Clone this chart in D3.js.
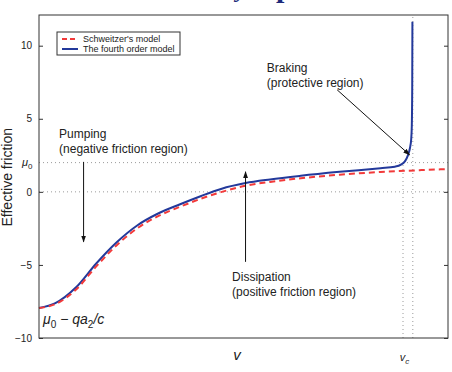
<!DOCTYPE html>
<html>
<head>
<meta charset="utf-8">
<script src="https://cdn.jsdelivr.net/npm/d3@7"></script>
<style>
  body { margin: 0; background: #fff; }
  svg { display: block; font-family: 'Liberation Sans', Arial, sans-serif; }
</style>
</head>
<body>
<svg width="452" height="372"></svg>
<script>
const w = 452;
const h = 372;

// velocity (arbitrary units) and effective friction
const vFourth = [0, 0.4, 0.9, 1.4, 1.9, 2.4, 2.9, 3.45, 3.95, 4.45, 5.05, 5.65, 6.4, 7.35, 8.35, 8.7, 8.85, 8.95, 9.02, 9.07, 9.1, 9.115, 9.125, 9.13];
const fFourth = [-7.95, -7.62, -6.55, -4.9, -3.45, -2.3, -1.5, -0.85, -0.3, 0.2, 0.6, 0.85, 1.1, 1.37, 1.62, 1.72, 1.86, 2.1, 2.5, 3.0, 3.6, 4.5, 7.0, 11.63];

const vSchw = [0, 0.4, 0.9, 1.4, 1.9, 2.4, 2.9, 3.45, 3.95, 4.45, 5.05, 5.65, 6.4, 7.35, 8.35, 9.3, 10];
const fSchw = [-7.95, -7.68, -6.7, -5.1, -3.65, -2.5, -1.68, -1.02, -0.48, -0.02, 0.42, 0.68, 0.93, 1.17, 1.36, 1.48, 1.56];

const yTicks = [-10, -5, 0, 5, 10];
const mu0 = 2;
const vc = 9.14;
const vLeft = 8.9;

const seriesNames = ["Schweitzer's model", 'The fourth order model'];

const margin = { left: 39, right: 4, top: 15, bottom: 34 };

let canvas = d3.select('svg');

const xScale = d3.scaleLinear().domain([0, 10]).range([margin.left, w - margin.right]);
const yScale = d3.scaleLinear().domain([-10, 12.1]).range([h - margin.bottom, margin.top]);

// arrow marker
canvas.append('defs').append('marker')
  .attr('id', 'arr')
  .attr('viewBox', '0 0 10 10')
  .attr('refX', 9).attr('refY', 5)
  .attr('markerWidth', 7).attr('markerHeight', 7)
  .attr('orient', 'auto')
  .append('path').attr('d', 'M0,1.5 L10,5 L0,8.5 Z').attr('fill', '#111');

// clipped title fragment above the figure (cut off in the original too)
canvas.append('text').attr('x', 236).attr('y', -3)
  .attr('font-family', 'Liberation Serif, serif').attr('font-size', 26)
  .attr('font-style', 'italic').attr('fill', '#1c2a7a').text('y');
canvas.append('text').attr('x', 276).attr('y', -3)
  .attr('font-family', 'Liberation Serif, serif').attr('font-size', 30)
  .attr('font-weight', 'bold').attr('fill', '#1c2a7a').text('p');

// dotted reference lines
const dotted = canvas.append('g').attr('stroke', '#9a9a9a').attr('stroke-width', 1).attr('stroke-dasharray', '1,3');
[0, mu0].forEach((v) => {
  dotted.append('line')
    .attr('x1', xScale(0)).attr('x2', xScale(10))
    .attr('y1', yScale(v)).attr('y2', yScale(v));
});
dotted.append('line')
  .attr('x1', xScale(vLeft)).attr('x2', xScale(vLeft))
  .attr('y1', yScale(-10)).attr('y2', yScale(mu0));
dotted.append('line')
  .attr('x1', xScale(vc)).attr('x2', xScale(vc))
  .attr('y1', yScale(-10)).attr('y2', yScale(12.1));

// curves
const line = d3.line().curve(d3.curveMonotoneX).x((d) => xScale(d[0])).y((d) => yScale(d[1]));

canvas.append('path')
  .datum(vFourth.map((v, i) => [v, fFourth[i]]))
  .attr('d', line)
  .attr('fill', 'none').attr('stroke', '#23399b').attr('stroke-width', 2);

canvas.append('path')
  .datum(vSchw.map((v, i) => [v, fSchw[i]]))
  .attr('d', line)
  .attr('fill', 'none').attr('stroke', '#f23a3a').attr('stroke-width', 2)
  .attr('stroke-dasharray', '6,4');

// box + axes
canvas.append('rect')
  .attr('x', xScale(0)).attr('y', yScale(12.1))
  .attr('width', xScale(10) - xScale(0)).attr('height', yScale(-10) - yScale(12.1))
  .attr('fill', 'none').attr('stroke', '#333').attr('stroke-width', 1);

const yAxis = d3.axisLeft(yScale).tickValues(yTicks).tickSizeInner(-4).tickSizeOuter(0).tickPadding(7)
  .tickFormat((d) => (d < 0 ? '\u2212' + Math.abs(d) : d));
const yAxisG = canvas.append('g').attr('transform', `translate(${xScale(0)},0)`).call(yAxis);
yAxisG.select('.domain').remove();
yAxisG.selectAll('text').attr('font-size', 10).attr('fill', '#222').attr('font-family', 'Liberation Sans, Arial, sans-serif');
yAxisG.selectAll('line').attr('stroke', '#333');

const yAxisR = d3.axisRight(yScale).tickValues(yTicks).tickSizeInner(-4).tickSizeOuter(0).tickFormat('');
const yAxisRG = canvas.append('g').attr('transform', `translate(${xScale(10)},0)`).call(yAxisR);
yAxisRG.select('.domain').remove();
yAxisRG.selectAll('line').attr('stroke', '#333');

// axis labels
canvas.append('text')
  .attr('transform', `translate(12,${yScale(1)}) rotate(-90)`)
  .attr('text-anchor', 'middle').attr('font-size', 14).attr('fill', '#222')
  .text('Effective friction');

canvas.append('text')
  .attr('x', xScale(4.75)).attr('y', 360)
  .attr('font-size', 15).attr('font-style', 'italic').attr('fill', '#222')
  .text('v');

const vcLabel = canvas.append('text')
  .attr('x', xScale(8.82)).attr('y', 361)
  .attr('font-size', 11).attr('font-style', 'italic').attr('fill', '#222');
vcLabel.append('tspan').text('v');
vcLabel.append('tspan').attr('font-size', 8).attr('dy', 3).text('c');

// mu0 tick label
const muLab = canvas.append('text')
  .attr('x', 22).attr('y', yScale(mu0) + 3)
  .attr('font-size', 11).attr('font-style', 'italic').attr('fill', '#222');
muLab.append('tspan').text('\u03bc');
muLab.append('tspan').attr('font-size', 8).attr('dy', 3).attr('font-style', 'normal').text('0');

// mu0 - q a2 / c label
const minLab = canvas.append('text')
  .attr('x', xScale(0.1)).attr('y', yScale(-9.03))
  .attr('font-size', 14).attr('font-style', 'italic').attr('fill', '#222');
minLab.append('tspan').text('\u03bc');
minLab.append('tspan').attr('font-size', 10).attr('dy', 4).attr('font-style', 'normal').text('0');
minLab.append('tspan').attr('dy', -4).attr('font-style', 'normal').text(' \u2212 ');
minLab.append('tspan').text('qa');
minLab.append('tspan').attr('font-size', 10).attr('dy', 4).attr('font-style', 'normal').text('2');
minLab.append('tspan').attr('dy', -4).text('/c');

// annotations
const note = (lines, v, f) => {
  const t = canvas.append('text').attr('x', xScale(v)).attr('y', yScale(f))
    .attr('font-size', 12).attr('fill', '#222');
  lines.forEach((s, i) => t.append('tspan').attr('x', xScale(v)).attr('dy', i === 0 ? 0 : 15).text(s));
};
const arrow = (v1, f1, v2, f2) => {
  canvas.append('line')
    .attr('x1', xScale(v1)).attr('y1', yScale(f1))
    .attr('x2', xScale(v2)).attr('y2', yScale(f2))
    .attr('stroke', '#111').attr('stroke-width', 1)
    .attr('marker-end', 'url(#arr)');
};

note(['Pumping', '(negative friction region)'], 0.49, 3.69);
arrow(1.09, 2.05, 1.09, -3.42);

note(['Braking', '(protective region)'], 5.57, 8.2);
arrow(7.29, 6.98, 9.06, 2.53);

note(['Dissipation', '(positive friction region)'], 4.72, -6.09);
arrow(5.05, -4.79, 5.05, 1.37);

// legend
const legend = canvas.append('g').attr('transform', 'translate(57,32)');
legend.append('rect').attr('width', 123).attr('height', 23)
  .attr('fill', '#fff').attr('stroke', '#333').attr('stroke-width', 1);
legend.append('line').attr('x1', 5).attr('x2', 21).attr('y1', 7).attr('y2', 7)
  .attr('stroke', '#f23a3a').attr('stroke-width', 2).attr('stroke-dasharray', '5,3');
legend.append('line').attr('x1', 5).attr('x2', 21).attr('y1', 17).attr('y2', 17)
  .attr('stroke', '#23399b').attr('stroke-width', 2);
seriesNames.forEach((s, i) => {
  legend.append('text').attr('x', 26).attr('y', 10 + i * 10)
    .attr('font-size', 9).attr('fill', '#222').text(s);
});
</script>
</body>
</html>
